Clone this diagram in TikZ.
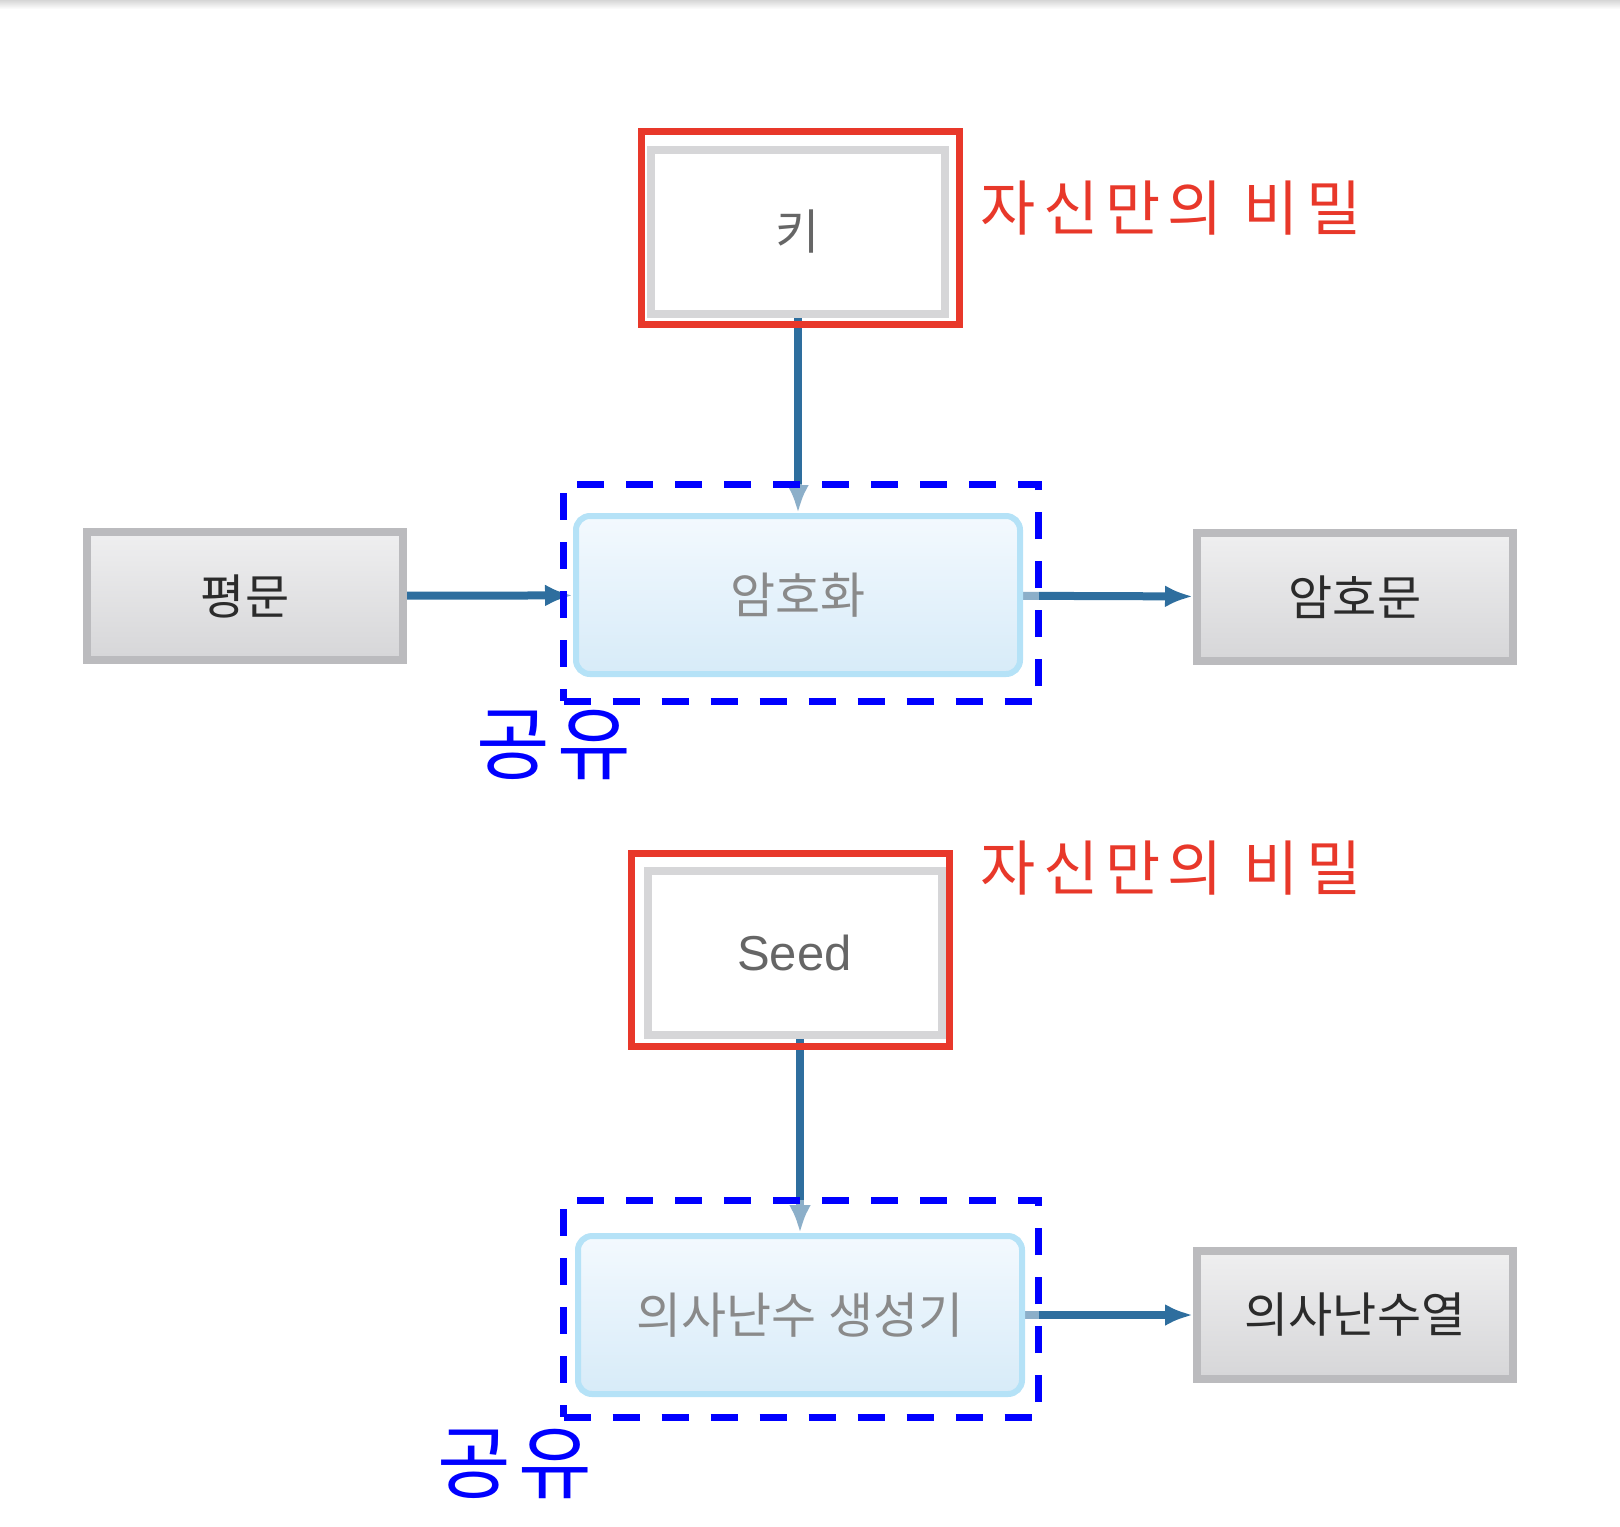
\documentclass[tikz,border=0pt]{standalone}
\usepackage{fontspec}
\setmainfont{Noto Sans CJK KR}
\newfontfamily\latinfont{Liberation Sans}
\usetikzlibrary{arrows.meta}
\definecolor{markred}{HTML}{E8382A}
\definecolor{sharedblue}{HTML}{0000FF}
\definecolor{flowblue}{HTML}{2E6E9E}
\definecolor{boxedge}{HTML}{BBBBBE}
\definecolor{boxtop}{HTML}{EFEFF0}
\definecolor{boxbot}{HTML}{D6D6D8}
\definecolor{keyedge}{HTML}{D6D6D8}
\definecolor{lightedge}{HTML}{B5E2F7}
\definecolor{lighttop}{HTML}{F3F9FE}
\definecolor{lightbot}{HTML}{D7EBF8}
\pgfdeclarelayer{bg}
\pgfdeclarelayer{mid}
\pgfsetlayers{bg,mid,main}

\begin{document}
\begin{tikzpicture}[x=0.5pt, y=-0.5pt,
    graybox/.style={draw=boxedge, line width=4pt, top color=boxtop, bottom color=boxbot,
      inner sep=0pt, minimum width=158pt, minimum height=64pt,
      font=\fontsize{24}{24}\selectfont, text=black!83},
    keybox/.style={draw=keyedge, line width=4pt, fill=white, inner sep=0pt,
      minimum width=147pt, minimum height=82pt, font=\fontsize{24}{24}\selectfont, text=black!60},
    markbox/.style={draw=markred, line width=3.5pt, inner sep=0pt,
      minimum width=159pt, minimum height=96.5pt},
    lightbox/.style={draw=lightedge, line width=3pt, rounded corners=7pt,
      top color=lighttop, bottom color=lightbot, inner sep=0pt,
      minimum width=222pt, minimum height=79pt, font=\fontsize{24.5}{24.5}\selectfont, text=black!46},
    frame/.style={draw=sharedblue, line width=3.5pt, dash pattern=on 13.5pt off 11pt,
      fill=white, fill opacity=0.45, draw opacity=1, inner sep=0pt,
      minimum width=237.5pt, minimum height=108.5pt},
    flow/.style={draw=flowblue, line width=4pt, -{Latex[length=14pt,width=11pt]}},
    secret/.style={text=markred, font=\fontsize{30}{30}\selectfont\addfontfeature{LetterSpace=12}, inner sep=0pt},
    shared/.style={text=sharedblue, font=\fontsize{40}{40}\selectfont\addfontfeature{LetterSpace=9}, inner sep=0pt}]

  \useasboundingbox (0,0) rectangle (1620,1526);
  \shade[top color=black!16, bottom color=white] (0,0) rectangle (1620,9);

  % encryption
  \node (key) at (797.5,231.5) [keybox] {키};
  \node (keymark) at (800.5,227.5) [markbox] {};
  \node (plain) at (245,596) [graybox] {평문};
  \node (enc) at (798,595) [lightbox] {암호화};
  \node (cipher) at (1355,597) [graybox] {암호문};
  \node (s0) at (1171,208) [secret] {자신만의 비밀};
  \node (u0) at (554,745) [shared] {공유};

  % pseudo random generator
  \node (seed) at (794.5,953) [keybox, font=\latinfont\fontsize{24.5}{24.5}\selectfont] {Seed};
  \node (seedmark) at (790.5,949.5) [markbox] {};
  \node (gen) at (800,1315) [lightbox] {의사난수 생성기};
  \node (rand) at (1355,1315) [graybox] {의사난수열};
  \node (s1) at (1171,868) [secret] {자신만의 비밀};
  \node (u1) at (515,1464) [shared] {공유};

  \begin{pgfonlayer}{mid}
    \node (f0) at (801,592.5) [frame] {};
    \node (f1) at (801,1308.5) [frame] {};
  \end{pgfonlayer}

  \begin{pgfonlayer}{bg}
    \draw[flow] (key.south -| enc.north) -- (enc.north);
    \draw[flow] (plain) -- (enc);
    \draw[flow] (enc) -- (cipher);
    \draw[flow] (seed.south -| gen.north) -- (gen.north);
    \draw[flow] (gen.east) -- (gen.east -| rand.west);
  \end{pgfonlayer}
\end{tikzpicture}
\end{document}
